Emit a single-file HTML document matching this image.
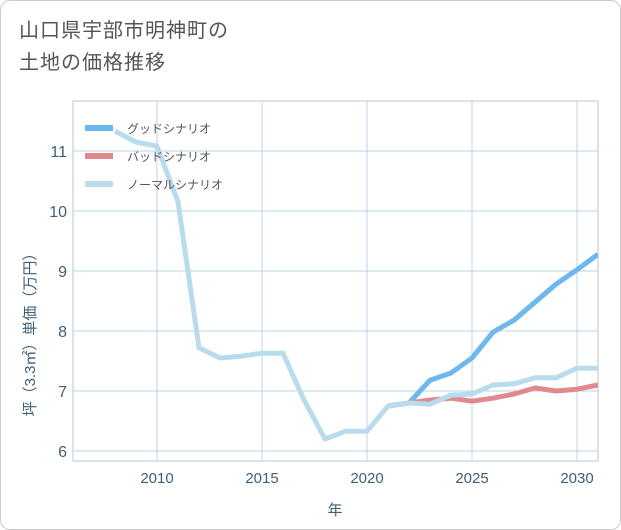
<!DOCTYPE html>
<html><head><meta charset="utf-8"><style>
body{margin:0;background:#fff;font-family:"Liberation Sans","Noto Sans CJK JP",sans-serif;}
#wrap{position:relative;width:619px;height:528px;border:1px solid #ccc;border-radius:10px;overflow:hidden;background:#fff}
#title{position:absolute;left:18px;top:14px;font-size:20px;line-height:32px;color:#555;letter-spacing:1px}
</style></head><body>
<div id="wrap">
<div id="title">山口県宇部市明神町の<br>土地の価格推移</div>
<svg id="chart" width="621" height="530" style="position:absolute;left:0;top:0"></svg>
</div>
<script>
const years=[2008,2009,2010,2011,2012,2013,2014,2015,2016,2017,2018,2019,2020,2021,2022,2023,2024,2025,2026,2027,2028,2029,2030,2031];
const normalVals=[11.33,11.15,11.08,10.15,7.72,7.55,7.58,7.63,7.63,6.85,6.2,6.33,6.33,6.75,6.8,6.78,6.93,6.95,7.1,7.12,7.22,7.22,7.38,7.38];
const futureYears=[2021,2022,2023,2024,2025,2026,2027,2028,2029,2030,2031];
const goodVals=[6.75,6.8,7.18,7.3,7.55,7.98,8.18,8.48,8.78,9.02,9.28];
const badVals=[6.75,6.8,6.85,6.88,6.83,6.88,6.95,7.05,7.0,7.03,7.1];
const xTicks=[2010,2015,2020,2025,2030];
const yTicks=[6,7,8,9,10,11];
const NS="http://www.w3.org/2000/svg";
const svg=document.getElementById('chart');
const L=72,R=597,T=100,B=460;
const x=v=>156+(v-2010)*21;
const y=v=>450-(v-6)*60;
const TXT='#3f5f78';
function mk(t,a){const e=document.createElementNS(NS,t);for(const k in a)e.setAttribute(k,a[k]);svg.appendChild(e);return e;}
const clip=mk('clipPath',{id:'pc'});
const cr=document.createElementNS(NS,'rect');cr.setAttribute('x',L);cr.setAttribute('y',T);cr.setAttribute('width',R-L);cr.setAttribute('height',B-T);clip.appendChild(cr);
const bg=mk('rect',{x:L,y:T,width:R-L,height:B-T,fill:'#fff',stroke:'#b8c4cc'});


xTicks.forEach(t=>{
 const g=mk('line',{x1:x(t),x2:x(t),y1:T,y2:B,stroke:'#bcd4e4'});
 
 
 const l=mk('text',{x:x(t),y:B+22,'text-anchor':'middle','font-size':15,fill:TXT});l.textContent=t;
 
 
});
yTicks.forEach(t=>{
 const g=mk('line',{x1:L,x2:R,y1:y(t),y2:y(t),stroke:'#bcd4e4'});
 
 
 const l=mk('text',{x:L-6,y:y(t)+6,'text-anchor':'end','font-size':16,fill:TXT});l.textContent=t;
 
 
});
const xt=mk('text',{x:334,y:514,'text-anchor':'middle','font-size':15,fill:TXT});xt.textContent='年';


const yt=mk('text',{x:0,y:0,'text-anchor':'middle','font-size':15,fill:TXT,transform:'translate(34,330) rotate(-90)'});yt.textContent='坪（3.3㎡）単価（万円）';


function line(xs,vs,c,n){
 const p=mk('polyline',{points:xs.map((v,i)=>x(v)+','+y(vs[i])).join(' '),fill:'none',stroke:c,'stroke-width':5,'stroke-linejoin':'round','clip-path':'url(#pc)'});
 
 
}
line(futureYears,goodVals,'#6cb8ef','good-scenario-line');
line(futureYears,badVals,'#e08a90','bad-scenario-line');
line(years,normalVals,'#b9dcec','normal-scenario-line');
const leg=[['グッドシナリオ','#6cb8ef'],['バッドシナリオ','#e08a90'],['ノーマルシナリオ','#b9dcec']];
leg.forEach((d,i)=>{
 const yy=127+i*28;
 const s=mk('line',{x1:84,x2:112,y1:yy,y2:yy,stroke:d[1],'stroke-width':6});
 
 
 const t=mk('text',{x:126,y:yy+5,'font-size':12,fill:'#555'});t.textContent=d[0];
 
 
});
</script>
</body></html>
